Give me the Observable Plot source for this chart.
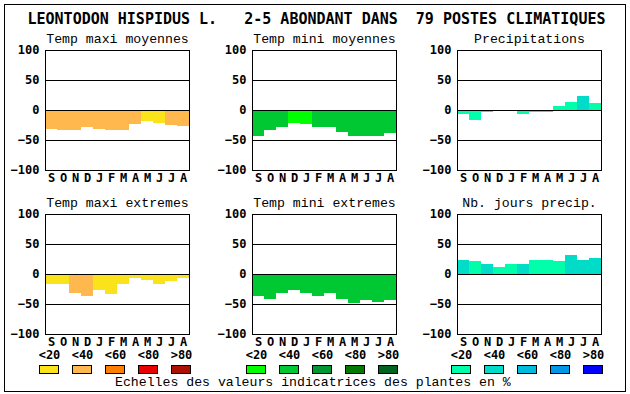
<!DOCTYPE html>
<html><head><meta charset="utf-8">
<script src="https://cdn.jsdelivr.net/npm/d3@7"></script>
<script src="https://cdn.jsdelivr.net/npm/@observablehq/plot@0.6"></script>
<style>
body{margin:0;background:#fff}
#root{position:relative;width:630px;height:394px;background:#fff;overflow:hidden}
</style></head><body><div id="root"></div>
<script>
// ---- data ----
const months = ["S","O","N","D","J","F","M","A","M","J","J","A"];
const yTicks = [-100, -50, 0, 50, 100];
const gridLines = [-50, 0, 50];
const classLabels = ["<20", "<40", "<60", "<80", ">80"];

const warmPalette  = ["#FAE31A", "#FFB84D", "#FF8000", "#E80000", "#AC1000"];
const greenPalette = ["#00FF00", "#00C832", "#009632", "#007A00", "#006420"];
const bluePalette  = ["#00FFAA", "#00DCC8", "#00BCDC", "#0098E6", "#0000FF"];

const tmaxMoy    = [-31, -33, -33, -28, -31, -33, -33, -23, -18, -22, -25, -27];
const tmaxMoyCls = [1, 1, 1, 1, 1, 1, 1, 1, 0, 0, 1, 1];
const tminMoy    = [-43, -34, -28, -22, -23, -28, -28, -36, -43, -43, -44, -38];
const tminMoyCls = [1, 1, 1, 0, 0, 1, 1, 1, 1, 1, 1, 1];
const precip     = [-6, -16, -4, 0, 0, -6, -3, -4, 7, 13, 23, 12];
const precipCls  = [0, 0, 0, 0, 0, 0, 0, 0, 0, 0, 1, 0];
const tmaxExt    = [-16, -16, -32, -36, -27, -34, -17, -7, -10, -17, -11, -6];
const tmaxExtCls = [0, 0, 1, 1, 0, 0, 0, 0, 0, 0, 0, 0];
const tminExt    = [-36, -41, -32, -27, -32, -36, -32, -41, -49, -44, -46, -44];
const tminExtCls = [1, 1, 1, 1, 1, 1, 1, 1, 1, 1, 1, 1];
const nbJours    = [23, 21, 17, 12, 17, 17, 24, 24, 21, 31, 24, 26];
const nbJoursCls = [1, 0, 1, 0, 0, 1, 0, 0, 0, 1, 1, 1];

const mainTitle = "LEONTODON HISPIDUS L.   2-5 ABONDANT DANS  79 POSTES CLIMATIQUES";
const caption = "Echelles des valeurs indicatrices des plantes en %";

// ---- drawing ----
const font = "DejaVu Sans Mono";
const thinFont = "Liberation Mono";
const root = document.getElementById("root");
function place(node, left, top) {
  node.style.position = "absolute";
  node.style.left = left + "px";
  node.style.top = top + "px";
  root.appendChild(node);
}

// overlay: border, title, caption
const ov = d3.create("svg").attr("width", 630).attr("height", 394)
  .style("font-family", font);
ov.append("rect").attr("x", 4.5).attr("y", 4.5).attr("width", 621).attr("height", 387)
  .attr("fill", "none").attr("stroke", "black");
ov.append("text").attr("x", 27.5).attr("y", 24).attr("xml:space", "preserve")
  .style("white-space", "pre").attr("font-size", 15).attr("font-weight", "bold")
  .text(mainTitle);
ov.append("text").attr("x", 115).attr("y", 386).attr("font-size", 13.2)
  .attr("font-family", thinFont)
  .text(caption);
place(ov.node(), 0, 0);

function panel(title, values, classes, palette) {
  const data = values.map((v, i) => ({i, v, c: palette[classes[i]]}));
  return Plot.plot({
    width: 210, height: 160,
    marginLeft: 45, marginRight: 21, marginTop: 20, marginBottom: 20,
    style: {fontFamily: font, fontSize: "12px", fontWeight: "bold", background: "transparent", overflow: "visible", color: "black"},
    x: {type: "band", domain: d3.range(12), padding: 0, tickFormat: i => months[i], tickSize: 0, tickPadding: 3, label: null},
    y: {domain: [-100, 100], ticks: yTicks, tickSize: 0, tickPadding: 6, label: null},
    marks: [
      Plot.rectY(data, {x: "i", y1: 0, y2: "v", fill: "c", shapeRendering: "crispEdges"}),
      Plot.ruleY(gridLines, {stroke: "black"}),
      Plot.frame({stroke: "black"}),
      Plot.text([title], {text: d => d, frameAnchor: "top", lineAnchor: "middle", dy: -12,
        fontWeight: "normal", fontSize: 13.2, fontFamily: thinFont, fill: "black"})
    ]
  });
}

function legend(palette) {
  const k = d3.range(5);
  return Plot.plot({
    width: 210, height: 30,
    marginLeft: 39, marginRight: 19, marginTop: 20, marginBottom: 1,
    style: {fontFamily: font, fontSize: "12px", fontWeight: "bold", background: "transparent", overflow: "visible", color: "black"},
    x: {type: "band", domain: k, paddingInner: 0.394, paddingOuter: 0, axis: null},
    marks: [
      Plot.cell(k, {x: d => d, fill: d => palette[d], stroke: "black", inset: 0.5}),
      Plot.text(k, {x: d => d, text: d => classLabels[d], frameAnchor: "top", lineAnchor: "middle", dy: -10, fill: "black"})
    ]
  });
}

const cols = [0, 207, 412];
place(panel("Temp maxi moyennes", tmaxMoy, tmaxMoyCls, warmPalette), cols[0], 30);
place(panel("Temp mini moyennes", tminMoy, tminMoyCls, greenPalette), cols[1], 30);
place(panel("Precipitations", precip, precipCls, bluePalette), cols[2], 30);
place(panel("Temp maxi extremes", tmaxExt, tmaxExtCls, warmPalette), cols[0], 194);
place(panel("Temp mini extremes", tminExt, tminExtCls, greenPalette), cols[1], 194);
place(panel("Nb. jours precip.", nbJours, nbJoursCls, bluePalette), cols[2], 194);
place(legend(warmPalette), cols[0], 345);
place(legend(greenPalette), cols[1], 345);
place(legend(bluePalette), cols[2], 345);
</script></body></html>
